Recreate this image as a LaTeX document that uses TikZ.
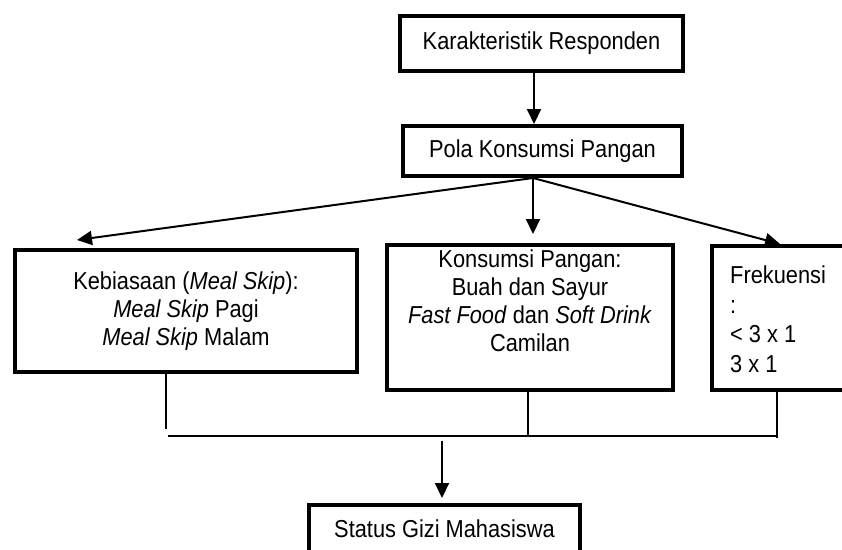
\documentclass[tikz,border=0pt]{standalone}
\usepackage{fontspec}
\setmainfont[FakeStretch=0.89]{Liberation Sans}
\usetikzlibrary{arrows.meta}
\begin{document}
\begin{tikzpicture}[x=1pt,y=-1pt,
  box/.style={draw,line width=4pt,inner sep=0pt,font=\fontsize{24.5}{28}\selectfont},
  txt/.style={inner sep=0pt,font=\fontsize{24.5}{28}\selectfont},
  arr/.style={line width=2pt,-{Triangle[length=15pt,width=14pt]}},
  thinline/.style={line width=1.4pt}]
\clip (0,0) rectangle (842,549);
\fill[white] (0,0) rectangle (842,549);

% boxes
\node[box,minimum width=283pt,minimum height=55pt] (kar) at (541.5,43.5) {Karakteristik Responden};
\node[box,minimum width=279pt,minimum height=50pt] (pola) at (542.5,151) {Pola Konsumsi Pangan};
\node[box,minimum width=342pt,minimum height=122pt,align=center] (keb) at (186,311)
  {Kebiasaan (\textit{Meal Skip}):\\\textit{Meal Skip} Pagi\\\textit{Meal Skip} Malam};
\node[box,minimum width=286pt,minimum height=145pt] (kons) at (530,317.5) {};
\node[txt,align=center,anchor=north] (konst) at (530,250)
  {Konsumsi Pangan:\\Buah dan Sayur\\\textit{Fast Food} dan \textit{Soft Drink}\\Camilan};
\node[box,minimum width=136pt,minimum height=144pt] (frek) at (780,318) {};
\node[txt,align=left,anchor=north west,font=\fontsize{24.5}{29.5}\selectfont] (frekt) at (730,266)
  {Frekuensi\\:\\< 3 x 1\\3 x 1};
\node[box,minimum width=271pt,minimum height=48pt] (status) at (444.5,529) {Status Gizi Mahasiswa};

% top connectors
\coordinate (p1) at (534,0);
\draw[arr] (kar.south -| p1) -- (pola.north -| p1);
\coordinate (p2) at (533,0);
\coordinate (ps) at (pola.south -| p2);
\coordinate (t3) at (77,240);
\coordinate (t5) at (780,0);
\draw[arr] (ps) -- (t3);
\draw[arr,shorten >=9pt] (ps) -- (kons.north -| ps);
\draw[arr] (ps) -- (frek.north -| t5);

% bottom connectors
\coordinate (ja) at (166,429);
\coordinate (jb) at (528,435);
\coordinate (jc) at (777,438);
\coordinate (hl) at (168,436);
\coordinate (hr) at (777,436);
\draw[thinline] (keb.south -| ja) -- (ja);
\draw[thinline] (kons.south -| jb) -- (jb);
\draw[thinline] (frek.south -| jc) -- (jc);
\draw[thinline] (hl) -- (hr);
\coordinate (ar) at (442,441);
\draw[arr,shorten >=5pt] (ar) -- (status.north -| ar);
\end{tikzpicture}
\end{document}
